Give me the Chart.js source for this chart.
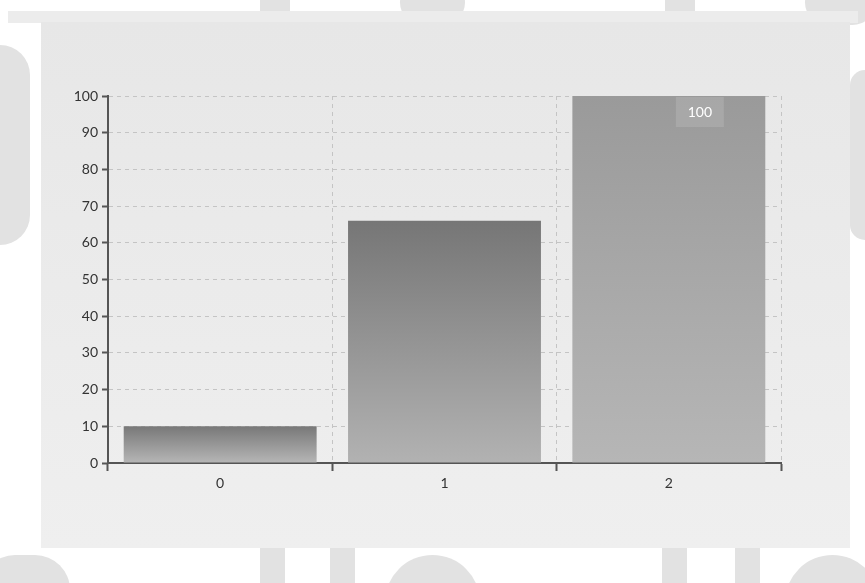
<!DOCTYPE html>
<html>
<head>
<meta charset="utf-8">
<script src="https://cdn.jsdelivr.net/npm/chart.js"></script>
<style>
  html, body { margin: 0; padding: 0; background: #ffffff; }
  #page { position: relative; width: 865px; height: 583px; overflow: hidden; }
  .blob { position: absolute; background: #e2e2e2; }
  #band { position: absolute; left: 8px; top: 11px; width: 850px; height: 12px; background: #ececec; }
  #panel { position: absolute; left: 41px; top: 22px; width: 809px; height: 526px;
           background: linear-gradient(#e7e7e7, #efefef); }
  #chart { position: absolute; left: 0; top: 0; }
</style>
</head>
<body>
<div id="page">
  <!-- faint watermark shapes around the panel -->
  <div class="blob" style="left:-30px;top:45px;width:60px;height:200px;border-radius:30px;"></div>
  <div class="blob" style="left:260px;top:-10px;width:30px;height:30px;"></div>
  <div class="blob" style="left:400px;top:-20px;width:65px;height:45px;border-radius:32px;"></div>
  <div class="blob" style="left:665px;top:-10px;width:30px;height:30px;"></div>
  <div class="blob" style="left:805px;top:-20px;width:70px;height:45px;border-radius:35px;"></div>
  <div class="blob" style="left:850px;top:70px;width:30px;height:170px;border-radius:15px;"></div>
  <div id="band"></div>
  <div class="blob" style="left:-20px;top:555px;width:90px;height:70px;border-radius:45px;"></div>
  <div class="blob" style="left:260px;top:548px;width:25px;height:40px;"></div>
  <div class="blob" style="left:330px;top:548px;width:25px;height:40px;"></div>
  <div class="blob" style="left:385px;top:555px;width:95px;height:60px;border-radius:48px 48px 0 0;"></div>
  <div class="blob" style="left:662px;top:548px;width:25px;height:40px;"></div>
  <div class="blob" style="left:735px;top:548px;width:25px;height:40px;"></div>
  <div class="blob" style="left:785px;top:555px;width:95px;height:60px;border-radius:48px 48px 0 0;"></div>
  <div id="panel"></div>
  <canvas id="chart" width="865" height="583"></canvas>
</div>
<script>
// chart values
const categories = ['0', '1', '2'];
const values = [10, 66, 100];
const yTicks = [0, 10, 20, 30, 40, 50, 60, 70, 80, 90, 100];
// top / bottom colours of each bar's gradient
const topColors = ['#787878', '#767676', '#9a9a9a'];
const bottomColors = ['#b6b6b6', '#b2b2b2', '#b6b6b6'];

const axisColor = '#555555';
const fontFamily = 'Lato, "DejaVu Sans", sans-serif';

// gradient fill for each bar, from its top down to the zero line
function barFill(ctx) {
    const chart = ctx.chart;
    const area = chart.chartArea;
    if (!area) return topColors[ctx.dataIndex];
    const y = chart.scales.y;
    const top = y.getPixelForValue(values[ctx.dataIndex]);
    const bottom = y.getPixelForValue(0);
    const g = chart.ctx.createLinearGradient(0, top, 0, bottom);
    g.addColorStop(0, topColors[ctx.dataIndex]);
    g.addColorStop(1, bottomColors[ctx.dataIndex]);
    return g;
}

// label box on the highest bar
const maxLabel = {
    id: 'maxLabel',
    afterDatasetsDraw(chart) {
        const meta = chart.getDatasetMeta(0);
        const max = Math.max(...values);
        const i = values.indexOf(max);
        const bar = meta.data[i];
        const c = chart.ctx;
        const cx = bar.x + 31;
        const cy = bar.y + 16;
        c.save();
        c.fillStyle = 'rgba(255,255,255,0.13)';
        c.fillRect(cx - 24, cy - 15, 48, 30);
        c.fillStyle = '#ffffff';
        c.font = '14px ' + fontFamily;
        c.textAlign = 'center';
        c.textBaseline = 'middle';
        c.fillText(String(max), cx, cy);
        c.restore();
    }
};

new Chart(document.getElementById('chart'), {
    type: 'bar',
    data: {
        labels: categories,
        datasets: [{
            data: values,
            backgroundColor: barFill,
            borderWidth: 0,
            barPercentage: 0.86,
            categoryPercentage: 1
        }]
    },
    options: {
        responsive: false,
        animation: false,
        layout: { padding: { left: 68, right: 84, top: 96, bottom: 90 } },
        plugins: { legend: { display: false }, tooltip: { enabled: false } },
        scales: {
            x: {
                afterFit: s => { s.height = 30; },
                grid: {
                    offset: true,
                    color: '#c4c4c4',
                    tickColor: axisColor,
                    tickLength: 8,
                    tickWidth: 2
                },
                border: { color: axisColor, width: 2, dash: [4, 4] },
                ticks: { color: '#333', font: { family: fontFamily, size: 14 }, padding: 4 }
            },
            y: {
                min: 0,
                max: 100,
                afterFit: s => { s.width = 40; },
                afterBuildTicks: s => { s.ticks = yTicks.map(v => ({ value: v })); },
                grid: {
                    color: '#c4c4c4',
                    tickColor: axisColor,
                    tickLength: 6,
                    tickWidth: 2
                },
                border: { color: axisColor, width: 2, dash: [4, 4] },
                ticks: { color: '#333', font: { family: fontFamily, size: 14 }, padding: 4 }
            }
        }
    },
    plugins: [maxLabel]
});
</script>
</body>
</html>
